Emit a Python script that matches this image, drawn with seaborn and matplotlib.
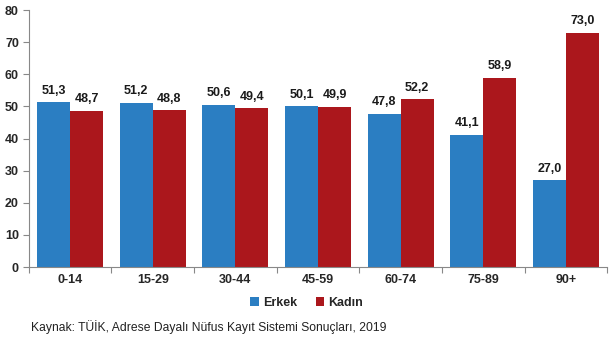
import matplotlib
matplotlib.use("Agg")
import matplotlib.pyplot as plt
import seaborn as sns
import pandas as pd
import numpy as np

categories = ["0-14", "15-29", "30-44", "45-59", "60-74", "75-89", "90+"]
erkek = [51.3, 51.2, 50.6, 50.1, 47.8, 41.1, 27.0]
kadin = [48.7, 48.8, 49.4, 49.9, 52.2, 58.9, 73.0]
series_names = ["Erkek", "Kadın"]
yticks = [0, 10, 20, 30, 40, 50, 60, 70, 80]
source = "Kaynak: TÜİK, Adrese Dayalı Nüfus Kayıt Sistemi Sonuçları, 2019"

df = pd.DataFrame({
    "grup": categories * 2,
    "cins": [series_names[0]] * len(categories) + [series_names[1]] * len(categories),
    "deger": erkek + kadin,
})

sns.set_theme(style="white")
plt.rcParams["font.family"] = ["Liberation Sans", "DejaVu Sans"]

fig = plt.figure(figsize=(6.11, 3.38), dpi=100)
ax = fig.add_axes([0.047, 0.21, 0.947, 0.76])

palette = {"Erkek": "#2B7EC2", "Kadın": "#AB171C"}
sns.barplot(data=df, x="grup", y="deger", hue="cins", order=categories,
            hue_order=series_names, palette=palette, width=0.8, saturation=1,
            linewidth=0, ax=ax, legend=True)

for cont in ax.containers:
    ax.bar_label(cont, labels=[f"{v:.1f}".replace(".", ",") for v in cont.datavalues],
                 padding=4, fontsize=9, fontweight="bold", color="#1a1a1a")

ax.set_ylim(0, 80)
ax.set_yticks(yticks)
ax.set_xlim(-0.5, len(categories) - 0.5)
ax.set_xlabel("")
ax.set_ylabel("")
for lab in ax.get_yticklabels() + ax.get_xticklabels():
    lab.set_fontweight("bold")
    lab.set_fontsize(9)
ax.tick_params(axis="x", which="major", length=0, pad=5)
ax.set_xticks(np.arange(-0.5, len(categories), 1), minor=True)
ax.tick_params(axis="x", which="minor", length=4, color="#888888", width=0.8, direction="out", bottom=True)
ax.tick_params(axis="y", length=4, color="#888888", width=0.8, direction="out", left=True, pad=3)
sns.despine(ax=ax, top=True, right=True)
for s in ["left", "bottom"]:
    ax.spines[s].set_color("#888888")
    ax.spines[s].set_linewidth(0.8)

leg = ax.legend(loc="center", bbox_to_anchor=(0.48, -0.14), ncol=2, frameon=False,
                fontsize=9, handlelength=0.7, handleheight=0.7, handletextpad=0.3,
                columnspacing=1.5)
for t in leg.get_texts():
    t.set_fontweight("bold")

fig.text(0.05, 0.033, source, fontsize=8.7, color="#222222", ha="left", va="center")

fig.savefig("out.png", dpi=100)
